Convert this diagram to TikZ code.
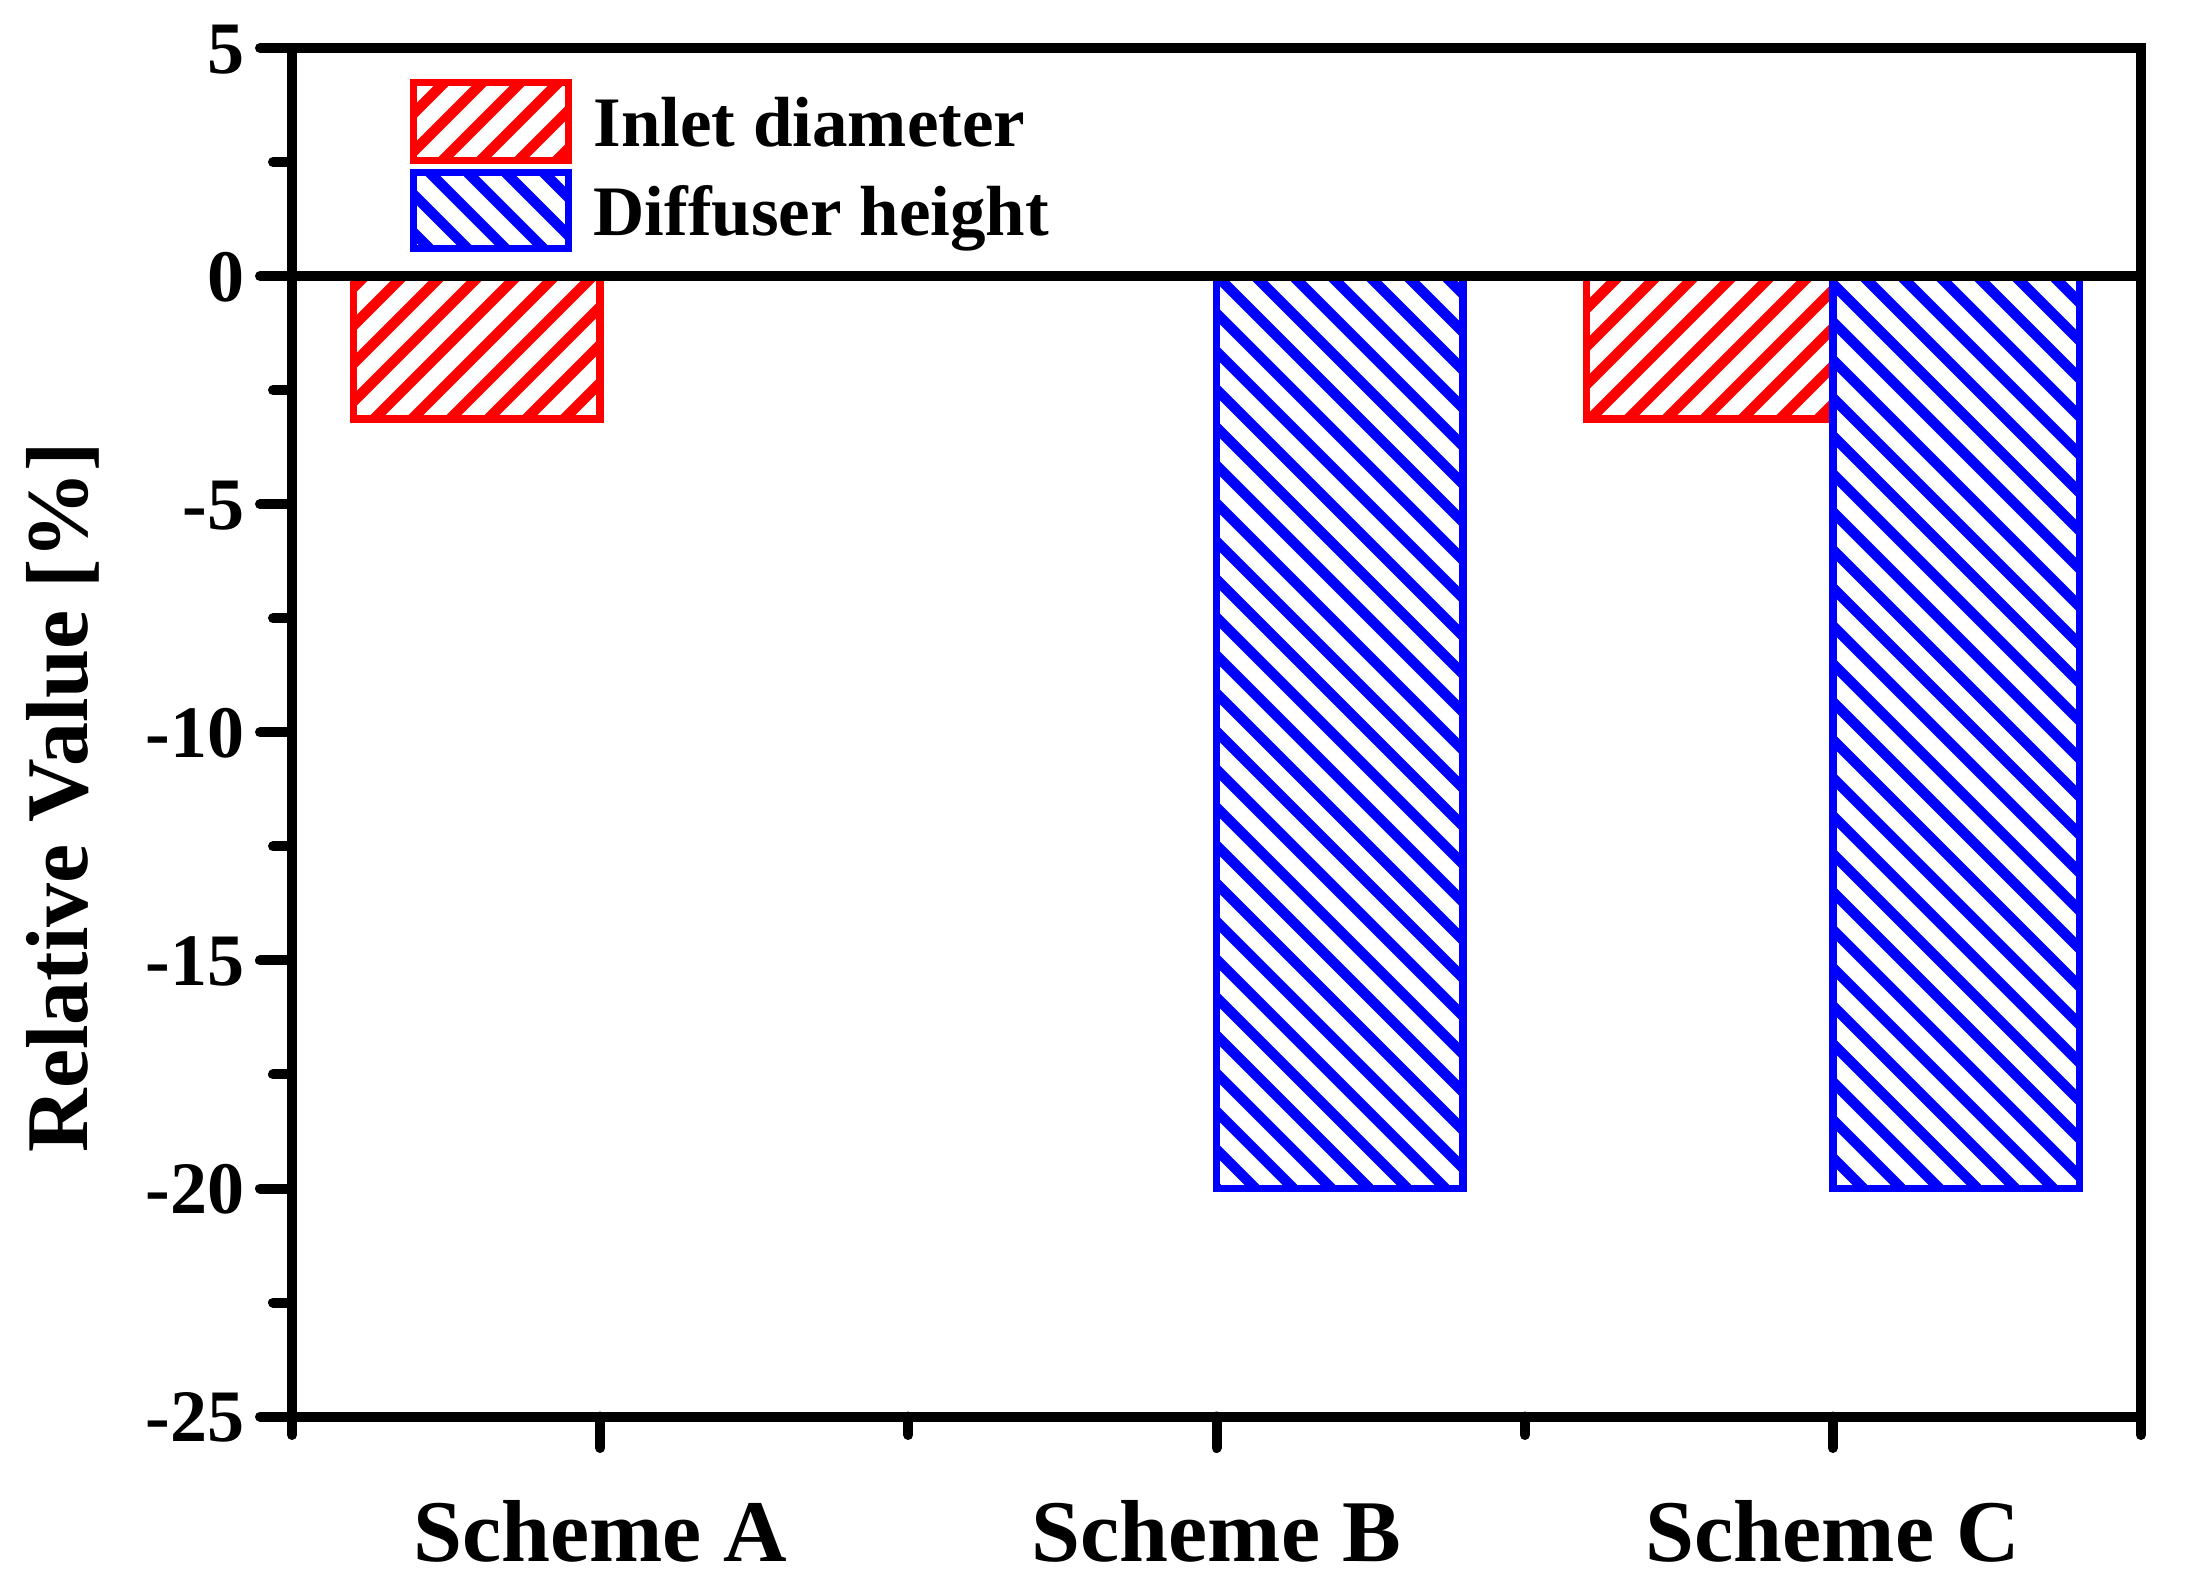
\documentclass[tikz,border=0pt]{standalone}
\usepackage{fontspec}
\setmainfont{Liberation Serif}
\definecolor{barred}{RGB}{255,0,0}
\definecolor{barblue}{RGB}{0,0,255}
\tikzset{
  axisline/.style={line width=5pt, line cap=round},
  frameline/.style={line width=5pt, line join=miter},
  barframe/.style={line width=3.75pt, line join=miter},
  hatchln/.style={line width=5.2pt},
  ticklab/.style={anchor=east, inner sep=0pt, font=\fontsize{37pt}{37pt}\selectfont\bfseries, text height=25pt, text depth=0pt},
  catlab/.style={anchor=base, inner sep=0pt, font=\fontsize{44pt}{44pt}\selectfont\bfseries},
  leglab/.style={anchor=base west, inner sep=0pt, font=\fontsize{35.5pt}{35.5pt}\selectfont\bfseries}
}
% hatched box, lines going up to the right: x1 y1 (top left) x2 y2 (bottom right) colour
\newcommand\hatchNE[5]{%
  \begin{scope}
    \clip (#1,#2) rectangle (#3,#4);
    \pgfmathtruncatemacro\hcs{38*floor((#1+#2)/38)-5}
    \pgfmathtruncatemacro\hcn{\hcs+38}
    \pgfmathtruncatemacro\hce{#3+#4+38}
    \foreach \c in {\hcs,\hcn,...,\hce}
      \draw[hatchln,#5] (\c-#4,#4) -- (\c-#2,#2);
  \end{scope}
  \draw[barframe,#5] (#1,#2) rectangle (#3,#4);
}
% hatched box, lines going down to the right
\newcommand\hatchNW[5]{%
  \begin{scope}
    \clip (#1,#2) rectangle (#3,#4);
    \pgfmathtruncatemacro\hcs{38*floor((#1-#4)/38)-9}
    \pgfmathtruncatemacro\hcn{\hcs+38}
    \pgfmathtruncatemacro\hce{#3-#2+38}
    \foreach \c in {\hcs,\hcn,...,\hce}
      \draw[hatchln,#5] (\c+#2,#2) -- (\c+#4,#4);
  \end{scope}
  \draw[barframe,#5] (#1,#2) rectangle (#3,#4);
}
\begin{document}
\begin{tikzpicture}[x=0.5pt,y=-0.5pt]
\fill[white] (0,0) rectangle (2186,1586);
\useasboundingbox (0,0) rectangle (2186,1586);

% bars
\hatchNE{353.7}{276.1}{600.2}{419}{barred}
\hatchNW{1216.5}{276.1}{1463}{1188.5}{barblue}
\hatchNE{1586.3}{276.1}{1832.8}{419}{barred}
\hatchNW{1832.8}{276.1}{2079.3}{1188.5}{barblue}

% zero line
\draw[line width=5pt] (292,276.1) -- (2141,276.1);

% frame
\draw[frameline] (292,48) rectangle (2141,1416.5);

% y ticks and labels
\foreach \k/\lab in {0/5,1/0,2/-5,3/-10,4/-15,5/-20,6/-25}{
  \draw[axisline] (292,48+\k*228.1) -- (260,48+\k*228.1);
  \node[ticklab] (yl\k) at (245,48+\k*228.1) {\lab};
}
\foreach \k in {0,...,5}
  \draw[axisline] (292,162.05+\k*228.1) -- (273,162.05+\k*228.1);

% x ticks
\foreach \x in {600.2,1216.5,1832.8}
  \draw[axisline] (\x,1416.5) -- (\x,1448);
\foreach \x in {292,908.3,1524.7,2141}
  \draw[axisline] (\x,1416.5) -- (\x,1435);

% category labels
\node[catlab] (sa) at (600.2,1561) {Scheme A};
\node[catlab] (sb) at (1216.5,1561) {Scheme B};
\node[catlab] (sc) at (1832.8,1561) {Scheme C};

% y axis label
\node[rotate=90, anchor=base, inner sep=0pt, font=\fontsize{44pt}{44pt}\selectfont\bfseries] (ylab) at (87,797) {Relative Value [\%]};

% legend
\hatchNE{413.5}{82.5}{568.5}{160.5}{barred}
\hatchNW{413.5}{172.5}{568.5}{248.5}{barblue}
\node[leglab] (l1) at (593,146) {Inlet diameter};
\node[leglab] (l2) at (593,235) {Diffuser height};
\end{tikzpicture}
\end{document}
